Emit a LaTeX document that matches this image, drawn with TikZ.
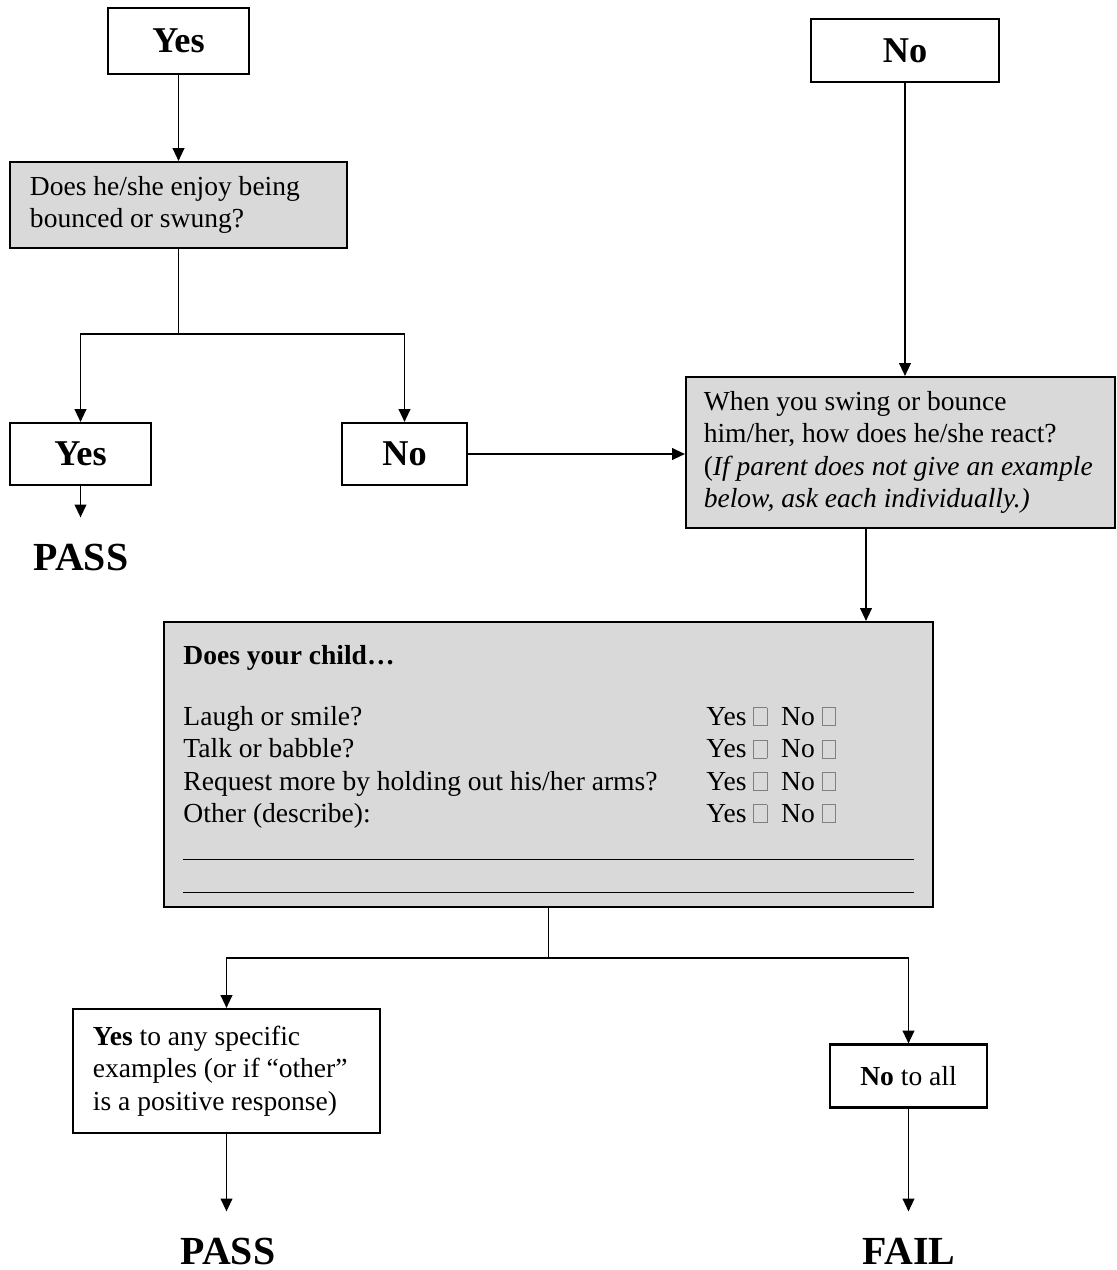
\documentclass[tikz,border=0pt]{standalone}
\usepackage{fontspec}
\setmainfont{Liberation Serif}
\usepackage{xcolor}
\usetikzlibrary{arrows.meta}
\definecolor{qgray}{RGB}{217,217,217}
\newcommand{\ckbox}{{\color{gray}\fboxsep=0pt\fboxrule=0.4pt\fbox{\rule{0pt}{7.3pt}\hspace{5.2pt}}}}

\begin{document}
\begin{tikzpicture}[x=0.015cm, y=-0.015cm,
    txt/.style={font=\fontsize{11.75}{13.8}\selectfont},
    ans/.style={draw, line width=0.9pt, font=\fontsize{15.5}{18}\selectfont\bfseries},
    qbox/.style={draw, line width=0.9pt, fill=qgray, align=flush left, inner xsep=0.3cm, txt},
    wbox/.style={draw, line width=0.9pt, align=flush left, inner xsep=0.3cm, txt},
    result/.style={font=\fontsize{17}{20}\selectfont\bfseries, inner sep=11pt},
    arr/.style={line width=0.75pt, -{Triangle[length=5.5pt,width=5pt]}},
    conn/.style={line width=0.75pt}]
    \useasboundingbox (0,0) rectangle (1117,1270);

    \node[ans, minimum width=2.115cm, minimum height=0.99cm] (yes1) at (178.5,41) {Yes};
    \node[ans, minimum width=2.82cm, minimum height=0.945cm] (no1) at (905,50.5) {No};
    \node[qbox, text width=4.455cm, minimum height=1.29cm] (q1) at (178.5,205) {Does he/she enjoy being\\bounced or swung?};
    \node[ans, minimum width=2.115cm, minimum height=0.93cm] (yes2) at (80.5,454) {Yes};
    \node[ans, minimum width=1.875cm, minimum height=0.93cm] (no2) at (404.5,454) {No};
    \node[result, anchor=base] (pass1) at (81,570) {PASS};
    \node[qbox, text width=5.9cm, inner xsep=0.2675cm, minimum height=2.265cm] (q2) at (900.5,452.5)
        {When you swing or bounce\\him/her, how does he/she react?\\(\textit{If parent does not give an example}\\\textit{below, ask each individually.)}};

    \node[qbox, minimum width=11.535cm, minimum height=4.275cm] (q3) at (548.5,764.5) {};
    \node[txt, anchor=base west, inner sep=0pt] (q3text) at (183,664) {%
        \begin{tabular}[t]{@{}p{223.2pt}@{}l@{}}
        \textbf{Does your child…} & \\[12.4pt]
        Laugh or smile? & Yes \ckbox\ \ No \ckbox\\
        Talk or babble? & Yes \ckbox\ \ No \ckbox\\
        Request more by holding out his/her arms? & Yes \ckbox\ \ No \ckbox\\
        Other (describe): & Yes \ckbox\ \ No \ckbox\\
        \multicolumn{2}{@{}l@{}}{\rule[-2.4pt]{311.6pt}{0.4pt}}\\
        \multicolumn{2}{@{}l@{}}{\rule[-2.4pt]{311.6pt}{0.4pt}}
        \end{tabular}};

    \node[wbox, text width=4.005cm, minimum height=1.86cm] (yes3) at (226.5,1071)
        {\textbf{Yes} to any specific\\examples (or if “other”\\is a positive response)};
    \node[wbox, align=center, minimum width=2.355cm, minimum height=0.945cm] (no3) at (908.5,1076) {\textbf{No} to all};
    \node[result, anchor=base] (pass2) at (228,1264) {PASS};
    \node[result, anchor=base] (fail) at (909,1264) {FAIL};

    \coordinate (split1) at (178.5,334);
    \coordinate (q2out) at (866,528);
    \coordinate (split2) at (548.5,958);

    \draw[arr] (yes1) -- (q1);
    \draw[conn] (q1.south) -- (split1);
    \draw[arr] (split1) -| (yes2);
    \draw[arr] (split1) -| (no2);
    \draw[arr] (yes2.south) -- (yes2.south |- pass1.north);
    \draw[arr] (no2.east) -- (no2.east -| q2.west);
    \draw[arr] (no1.south) -- (no1.south |- q2.north);
    \draw[arr] (q2out) -- (q2out |- q3.north);
    \draw[conn] (q3.south) -- (split2);
    \draw[arr] (split2) -| (yes3);
    \draw[arr] (split2) -| (no3);
    \draw[arr] (yes3.south) -- (yes3.south |- pass2.north);
    \draw[arr] (no3.south) -- (no3.south |- fail.north);
\end{tikzpicture}
\end{document}
